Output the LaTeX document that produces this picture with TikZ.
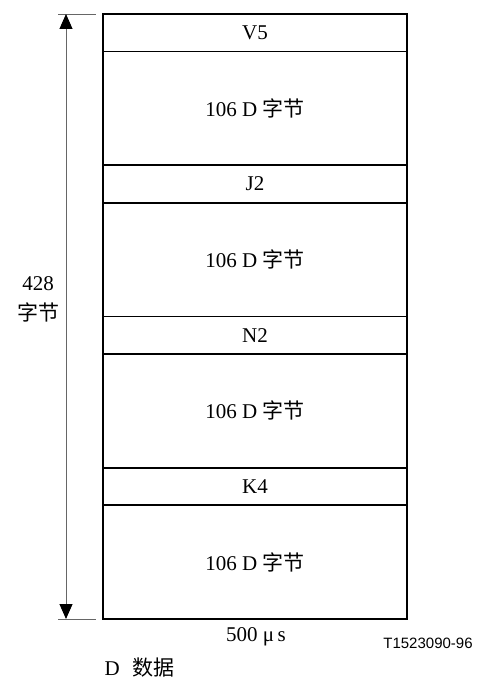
\documentclass[tikz,border=0pt]{standalone}
\usepackage{fontspec}
\setmainfont{Liberation Serif}
\setsansfont{Liberation Sans}
\newfontfamily\cjk{Noto Sans CJK SC}
\usetikzlibrary{positioning, arrows.meta}

\begin{document}
\begin{tikzpicture}[x=1pt, y=-1pt, >={Triangle[length=15pt,width=13pt,black]}, node distance=0pt,
  hdr/.style={draw, line width=1.6pt, minimum width=304pt, minimum height=37.5pt, outer sep=0pt, inner sep=0pt, font=\fontsize{21}{24}\selectfont},
  row/.style={hdr, minimum height=113.75pt}]
  \useasboundingbox (0,0) rectangle (477,684);
  % frame rows
  \node[hdr] (v5) at (255,32.75) {V5};
  \node[row, below=of v5] (d1) {106 D {\cjk 字节}};
  \node[hdr, below=of d1] (j2) {J2};
  \node[row, below=of j2] (d2) {106 D {\cjk 字节}};
  \node[hdr, below=of d2] (n2) {N2};
  \node[row, below=of n2] (d3) {106 D {\cjk 字节}};
  \node[hdr, below=of d3] (k4) {K4};
  \node[row, below=of k4] (d4) {106 D {\cjk 字节}};
  % height dimension
  \coordinate (ttop) at (58,14);
  \coordinate (tbot) at (58,619);
  \coordinate (atop) at (66,14);
  \coordinate (abot) at (66,619);
  \draw[gray!80!black, line width=0.8pt] (ttop) -- ++(38,0);
  \draw[gray!80!black, line width=0.8pt] (tbot) -- ++(38,0);
  \draw[<->, gray!80!black, line width=1pt] (atop) -- (abot);
  \node[align=center, font=\fontsize{21}{30}\selectfont] (len) at (38,299) {428\\{\cjk 字节}};
  % labels below
  \node[font=\fontsize{21}{24}\selectfont] (wid) at (256,637) {500 μ\,s};
  \node[font=\sffamily\fontsize{15}{17}\selectfont] (ref) at (428,643) {T1523090-96};
  \node[font=\fontsize{21}{24}\selectfont, anchor=west] (cap) at (101,668) {D\hspace{0.6em}{\cjk 数据}};
\end{tikzpicture}
\end{document}
